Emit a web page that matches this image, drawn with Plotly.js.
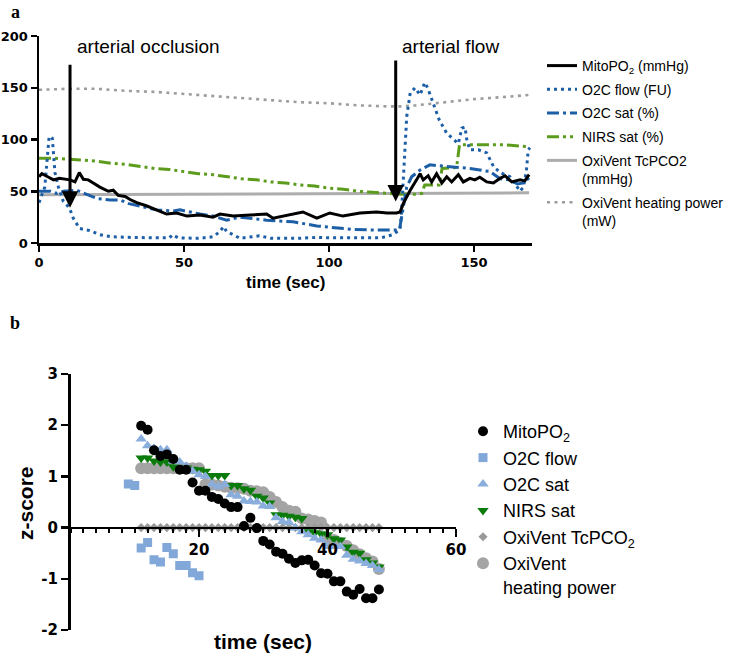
<!DOCTYPE html>
<html>
<head>
<meta charset="utf-8">
<script src="https://cdn.plot.ly/plotly-3.0.1.min.js"></script>
<style>
html,body{margin:0;padding:0;background:#fff;}
#chart{width:749px;height:657px;}
</style>
</head>
<body>
<div id="chart"></div>
<script>
// ---------- Panel a: time series ----------
const mitoT = [0,1,3,5,7,9.5,10.7,12.4,13.9,15.3,17,18.7,21,23.9,25.6,27.3,29.7,31.4,33.7,37,40.6,44,47.5,51,55.5,60,62.4,67,72.8,78.5,80.7,85.4,91,95.8,100.3,104.8,110.7,116.4,120,123.3,124.5,125.6,126.8,128,130.2,131.4,132.5,134.2,135.4,137.1,138.9,140.6,142.3,144.6,146.3,148.6,150.3,152,154.4,156.7,159,160.7,163,165.9,167.5,169];
const mitoV = [64,67,64,61,62.5,61.5,61,59,68,61.5,61,58,54,50,51,46,45,42,39,36,32,28,29,26,27,25,28,26,27,28,24,27,30,24,29,26,29,30,29,29,30,38,45,51,61,67,61,65,59,67,58,64,59,66,59,62.5,61,63.5,59,58,62.5,65,59,61,60,66];

const flowT = [0,2,3,3.5,4.6,5,5.5,6.7,8.4,10.5,11.8,14,17.5,21,25,30,35,40,45,46,48,55,60,62.4,63.6,64.7,67,69.3,76,80,90,96,100,110,118,122,124.5,125,125.6,126.2,126.8,128,129.7,131.4,133,134,136,138,140.6,142.9,144.6,145.8,146.9,147.5,148.6,151.5,154.4,156.7,159,162.4,165.9,167,168,168.7,169.3];
const flowV = [39,54,87,103,101,83,68,54,40,34,24,14,12,8,6,5.5,5,5,5,8,5,4.5,6,11,16,11,8,4.5,7,4.5,4.5,5.5,5,5,5,8,13,29,61,90,122,145,150,143,155,150,135,119,106,100,96,111,112,100,90,90,87,74,68,64,50,54,68,90,92];

const satT = [0,4,6,8.4,13,16.4,20,24.5,28,31,36,40.6,46.3,48.6,55.5,60,64.7,69.3,78.5,87.6,95.8,101.4,108.4,116.4,124,124.5,125.6,126.8,128.5,131.4,134.8,138.3,144,148.6,155.5,159,162.4,165,167,169];
const satV = [50,50,48,50,51,47,43,41.5,41.5,38,34.5,32,31,32,28,26,22,25,22,20.5,16.5,15,13,12.5,12.5,16,35,54,64,70.5,75.5,74.5,73,72,69,62,61,57,58,63];

const nirsT = [0,5,10,15,20,25,30,35,40,45,50,55,60,65,70,75,80,85,90,95,100,105,110,115,120,123,125,130,132,133,138,139,144,145,150,160,169];
const nirsV = [82,82,81,80,79,77,76,74,72,71,69,67,66,64,62,61,59,58,56,55,53,52,50,49,48,47,47,47,48,56,56,72,73,95,95,95,93];

const tcpT = [0,50,100,150,169];
const tcpV = [46.5,47,47.5,48.2,48.5];

const heatT = [0,10,20,30,40,50,60,70,80,90,100,110,120,125,130,140,150,160,169];
const heatV = [148,149,149,147,146,144,142,140,138,136,135,133,132,132,133,136,139,141,143];

// ---------- Panel b: z-scores ----------
const zT = [11,12,13,14,15,16,17,18,19,20,21,22,23,24,25,26,27,28,29,30,31,32,33,34,35,36,37,38,39,40,41,42,43,44,45,46,47,48];
const zMito = [1.99,1.91,1.51,1.40,1.43,1.34,1.13,1.13,0.88,0.72,0.72,0.60,0.56,0.47,0.40,0.40,0.03,0.19,-0.01,-0.26,-0.33,-0.47,-0.51,-0.61,-0.69,-0.64,-0.63,-0.74,-0.89,-0.90,-1.05,-1.05,-1.25,-1.31,-1.20,-1.38,-1.38,-1.21];
const zFlowT = [9,10,11,12,13,14,15,16,17,18,19,20];
const zFlow = [0.85,0.82,-0.40,-0.29,-0.63,-0.67,-0.39,-0.51,-0.74,-0.74,-0.88,-0.94];
const zSat = [1.73,1.60,1.55,1.52,1.52,1.30,1.28,1.20,1.10,1.03,1.00,0.84,0.80,0.84,0.64,0.61,0.52,0.51,0.50,0.42,0.41,0.19,0.12,0.10,-0.01,-0.08,-0.14,-0.21,-0.24,-0.37,-0.37,-0.37,-0.54,-0.62,-0.65,-0.70,-0.74,-0.82];
const zNirs = [1.36,1.36,1.30,1.28,1.28,1.19,1.18,1.17,1.14,1.13,1.10,1.02,1.02,1.02,0.82,0.82,0.76,0.73,0.61,0.58,0.48,0.25,0.24,0.22,0.20,0.18,-0.08,-0.10,-0.12,-0.14,-0.22,-0.24,-0.38,-0.48,-0.50,-0.63,-0.69,-0.77];
const zTcp = [0,0,0,0,0,0,0,0,0,0,0,0,0,0,0,0,0,0,0,0,0,0,0,0,0,0,0,0,0,0,0,0,0,0,0,0,0,0];
const zHeat = [1.16,1.16,1.16,1.16,1.16,1.16,1.16,1.16,1.16,1.16,0.84,0.84,0.82,0.80,0.78,0.77,0.76,0.72,0.71,0.69,0.60,0.50,0.40,0.33,0.31,0.18,0.16,0.13,0.10,-0.24,-0.24,-0.30,-0.36,-0.44,-0.52,-0.60,-0.66,-0.81];

const topNames = ['MitoPO<sub>2</sub> (mmHg)','O2C flow (FU)','O2C sat (%)','NIRS sat (%)','OxiVent TcPCO2<br>(mmHg)','OxiVent heating power<br>(mW)'];
const botNames = ['MitoPO<sub>2</sub>','O2C flow','O2C sat','NIRS sat','OxiVent TcPCO<sub>2</sub>','OxiVent<br>heating power'];
const yTicksA = [0,50,100,150,200];
const xTicksA = [0,50,100,150];
const yTicksB = [-2,-1,0,1,2,3];
const yTickTextB = ['-2','-1','0','1','2','3'];
const xTicksB = [20,40,60];

const blue = '#1D5FA7', green = '#5C9C1C';

const traces = [
  // panel a (draw order: bottom first)
  {x:heatT,y:heatV,mode:'lines',name:topNames[5],legendgroup:'a6',legendrank:6,line:{color:'#9C9C9C',width:2.6,dash:'3px,4.5px'},legend:'legend'},
  {x:tcpT,y:tcpV,mode:'lines',name:topNames[4],legendgroup:'a5',legendrank:5,line:{color:'#ADADAD',width:3},legend:'legend'},
  {x:nirsT,y:nirsV,mode:'lines',name:topNames[3],legendgroup:'a4',legendrank:4,line:{color:green,width:3,dash:'12px,4px,3px,4px,3px,4px'},legend:'legend'},
  {x:satT,y:satV,mode:'lines',name:topNames[2],legendgroup:'a3',legendrank:3,line:{color:blue,width:3,dash:'12px,4px,3px,4px'},legend:'legend'},
  {x:flowT,y:flowV,mode:'lines',name:topNames[1],legendgroup:'a2',legendrank:2,line:{color:blue,width:3,dash:'3px,4px'},legend:'legend'},
  {x:mitoT,y:mitoV,mode:'lines',name:topNames[0],legendgroup:'a1',legendrank:1,line:{color:'#000',width:3},legend:'legend'},
  // panel b
  {x:zT,y:zHeat,xaxis:'x2',yaxis:'y2',mode:'markers',name:botNames[5],marker:{symbol:'circle',size:12,color:'#A4A4A4'},legend:'legend2'},
  {x:zT,y:zTcp,xaxis:'x2',yaxis:'y2',mode:'markers',name:botNames[4],marker:{symbol:'diamond',size:7,color:'#999999'},legend:'legend2'},
  {x:zT,y:zNirs,xaxis:'x2',yaxis:'y2',mode:'markers',name:botNames[3],marker:{symbol:'triangle-down',size:10,color:'#0B7B0B'},legend:'legend2'},
  {x:zT,y:zSat,xaxis:'x2',yaxis:'y2',mode:'markers',name:botNames[2],marker:{symbol:'triangle-up',size:10,color:'#8AAEDC'},legend:'legend2'},
  {x:zFlowT,y:zFlow,xaxis:'x2',yaxis:'y2',mode:'markers',name:botNames[1],marker:{symbol:'square',size:9,color:'#82A8D9'},legend:'legend2'},
  {x:zT,y:zMito,xaxis:'x2',yaxis:'y2',mode:'markers',name:botNames[0],marker:{symbol:'circle',size:10,color:'#000'},legend:'legend2'}
];

const W = 749, H = 657;
const tickFontA = {family:'DejaVu Sans',size:13,color:'#000',weight:'bold'};
const tickFontB = {family:'DejaVu Sans',size:15,color:'#000',weight:'bold'};
const boldArial = (s)=>({family:'Liberation Sans, Arial',size:s,color:'#000',weight:'bold'});

const layout = {
  width:W,height:H,
  margin:{l:0,r:0,t:0,b:0},
  paper_bgcolor:'#fff',plot_bgcolor:'rgba(0,0,0,0)',
  showlegend:true,
  xaxis:{domain:[39/W,532/W],range:[0,170],anchor:'y',showgrid:false,zeroline:false,
    showline:true,linecolor:'#000',linewidth:2.5,ticks:'outside',ticklen:6,tickwidth:2.5,tickcolor:'#000',
    tickmode:'array',tickvals:xTicksA,tickfont:tickFontA},
  yaxis:{domain:[1-243/H,1-36/H],range:[0,200],anchor:'x',showgrid:false,zeroline:false,
    showline:true,linecolor:'#000',linewidth:2.5,ticks:'outside',ticklen:6,tickwidth:2.5,tickcolor:'#000',
    tickmode:'array',tickvals:yTicksA,tickfont:tickFontA},
  xaxis2:{domain:[70.5/W,456/W],range:[0,60],anchor:'free',position:1-527.8/H,showgrid:false,zeroline:false,
    showline:true,linecolor:'#000',linewidth:2.5,ticks:'outside',ticklen:8,tickwidth:2.5,tickcolor:'#000',
    tickmode:'array',tickvals:xTicksB,tickfont:tickFontB,
    minor:{tickmode:'linear',tick0:0,dtick:2,ticks:'outside',ticklen:4,tickwidth:2,tickcolor:'#000',showgrid:false}},
  yaxis2:{domain:[1-630/H,1-374/H],range:[-2,3],anchor:'x2',showgrid:false,zeroline:false,
    showline:true,linecolor:'#000',linewidth:2.5,ticks:'outside',ticklen:7,tickwidth:2.5,tickcolor:'#000',
    tickmode:'array',tickvals:yTicksB,ticktext:yTickTextB,tickfont:tickFontB},
  legend:{x:542/W,y:1-50/H,xanchor:'left',yanchor:'top',traceorder:'grouped',tracegroupgap:2.5,valign:'top',
    font:{family:'Liberation Sans, Arial',size:14,color:'#000'},bgcolor:'rgba(0,0,0,0)',borderwidth:0},
  legend2:{x:463/W,y:1-413/H,xanchor:'left',yanchor:'top',traceorder:'reversed',valign:'top',
    font:{family:'Liberation Sans, Arial',size:18,color:'#000'},bgcolor:'rgba(0,0,0,0)',borderwidth:0},
  annotations:[
    {xref:'x',yref:'y',x:10.7,y:34,ax:10.7,ay:182,axref:'x',ayref:'y',showarrow:true,arrowhead:2,arrowsize:1.1,arrowwidth:3,arrowcolor:'#000',text:' '},
    {xref:'x',yref:'y',x:123,y:40,ax:123,ay:186,axref:'x',ayref:'y',showarrow:true,arrowhead:2,arrowsize:1.1,arrowwidth:3,arrowcolor:'#000',text:' '},
    {xref:'x',yref:'y',x:12.4,y:190,xanchor:'left',yanchor:'middle',showarrow:false,text:'arterial occlusion',font:{family:'Liberation Sans, Arial',size:19,color:'#000'}},
    {xref:'x',yref:'y',x:124.5,y:190,xanchor:'left',yanchor:'middle',showarrow:false,text:'arterial flow',font:{family:'Liberation Sans, Arial',size:19,color:'#000'}},
    {xref:'paper',yref:'paper',x:285.5/W,y:1-283/H,xanchor:'center',yanchor:'middle',showarrow:false,text:'time (sec)',font:boldArial(17)},
    {xref:'paper',yref:'paper',x:263/W,y:1-641/H,xanchor:'center',yanchor:'middle',showarrow:false,text:'time (sec)',font:boldArial(21)},
    {xref:'paper',yref:'paper',x:25/W,y:1-503/H,xanchor:'center',yanchor:'middle',showarrow:false,textangle:-90,text:'z-score',font:boldArial(21)},
    {xref:'paper',yref:'paper',x:15/W,y:1-12/H,xanchor:'center',yanchor:'middle',showarrow:false,text:'a',font:{family:'Liberation Serif, Times New Roman',size:18,color:'#000',weight:'bold'}},
    {xref:'paper',yref:'paper',x:15/W,y:1-323/H,xanchor:'center',yanchor:'middle',showarrow:false,text:'b',font:{family:'Liberation Serif, Times New Roman',size:18,color:'#000',weight:'bold'}}
  ]
};

Plotly.newPlot('chart',traces,layout,{displayModeBar:false,staticPlot:true});
</script>
</body>
</html>
